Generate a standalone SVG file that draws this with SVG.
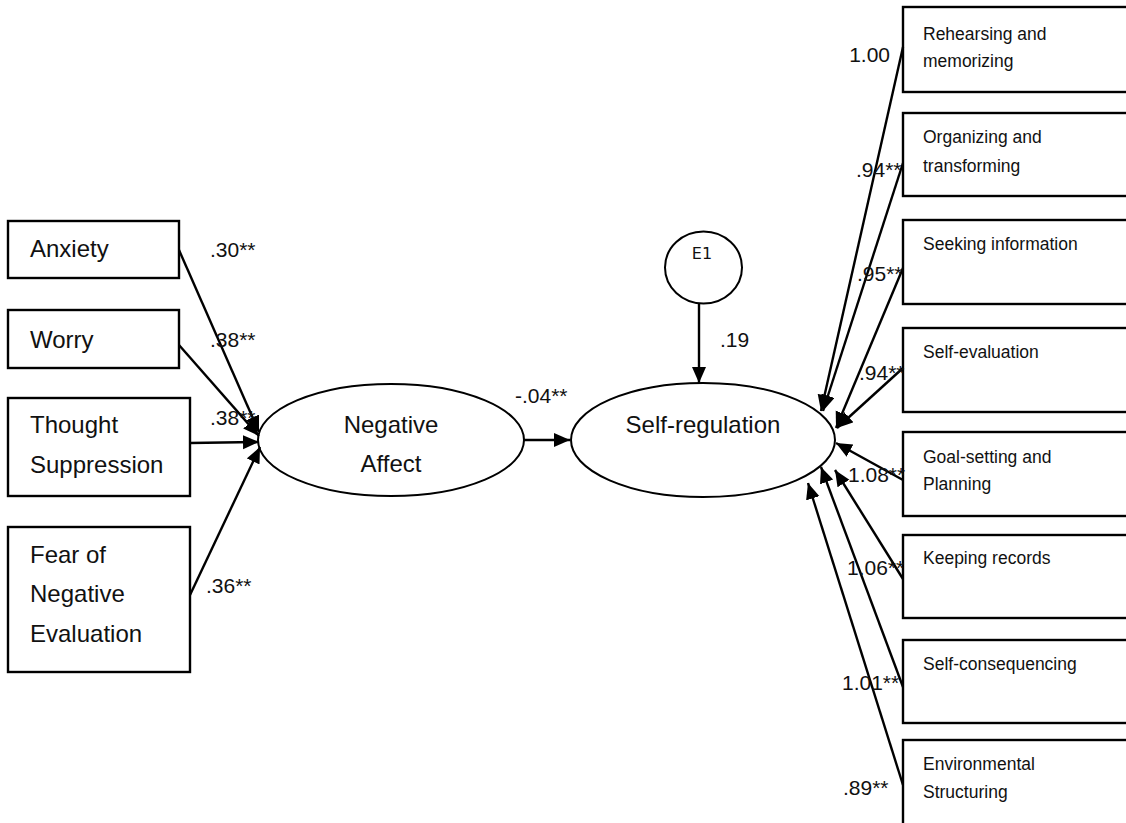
<svg xmlns="http://www.w3.org/2000/svg" width="1126" height="823" viewBox="0 0 1126 823">
<style>
.box{fill:#fff;stroke:#000;stroke-width:2.4}
.ell{fill:#fff;stroke:#000;stroke-width:2}
.lbl{font-family:"Liberation Sans",Arial,sans-serif;font-size:24px;fill:#111}
.sm{font-family:"Liberation Sans",Arial,sans-serif;font-size:17.5px;fill:#111}
.coef{font-family:"Liberation Sans",Arial,sans-serif;font-size:21px;fill:#111}
.conn line{stroke:#000;stroke-width:2.4;marker-end:url(#ah)}
</style>
<defs>
<marker id="ah" markerUnits="userSpaceOnUse" markerWidth="18" markerHeight="16" refX="16" refY="7" orient="auto">
<path d="M0,0 L16,7 L0,14 z" fill="#000"/>
</marker>
</defs>
<rect width="1126" height="823" fill="#fff"/>

<g id="anxiety"><rect class="box" x="8" y="221" width="171" height="57"/><text class="lbl" x="30" y="257">Anxiety</text></g>
<g id="worry"><rect class="box" x="8" y="310" width="171" height="58"/><text class="lbl" x="30" y="348">Worry</text></g>
<g id="thought"><rect class="box" x="8" y="398" width="182" height="98"/><text class="lbl" x="30" y="433">Thought</text><text class="lbl" x="30" y="473">Suppression</text></g>
<g id="fear"><rect class="box" x="8" y="527" width="182" height="145"/><text class="lbl" x="30" y="563">Fear of</text><text class="lbl" x="30" y="602">Negative</text><text class="lbl" x="30" y="642">Evaluation</text></g>

<g id="negaff"><ellipse class="ell" cx="391" cy="440" rx="133" ry="56"/><text class="lbl" x="391" y="433" text-anchor="middle">Negative</text><text class="lbl" x="391" y="472" text-anchor="middle">Affect</text></g>
<g id="selfreg"><ellipse class="ell" cx="703" cy="440" rx="132" ry="57"/><text class="lbl" x="703" y="433" text-anchor="middle">Self-regulation</text></g>
<g id="e1"><ellipse class="ell" cx="703.5" cy="267.5" rx="38.5" ry="36"/><text x="702" y="259" text-anchor="middle" font-family="DejaVu Sans,sans-serif" font-size="16" fill="#111">E1</text></g>

<g id="r1"><rect class="box" x="903" y="7" width="240" height="85"/><text class="sm" x="923" y="40">Rehearsing and</text><text class="sm" x="923" y="67">memorizing</text></g>
<g id="r2"><rect class="box" x="903" y="113" width="240" height="83"/><text class="sm" x="923" y="143">Organizing and</text><text class="sm" x="923" y="172">transforming</text></g>
<g id="r3"><rect class="box" x="903" y="220" width="240" height="84"/><text class="sm" x="923" y="250">Seeking information</text></g>
<g id="r4"><rect class="box" x="903" y="328" width="240" height="84"/><text class="sm" x="923" y="358">Self-evaluation</text></g>
<g id="r5"><rect class="box" x="903" y="432" width="240" height="84"/><text class="sm" x="923" y="463">Goal-setting and</text><text class="sm" x="923" y="490">Planning</text></g>
<g id="r6"><rect class="box" x="903" y="535" width="240" height="83"/><text class="sm" x="923" y="564">Keeping records</text></g>
<g id="r7"><rect class="box" x="903" y="640" width="240" height="83"/><text class="sm" x="923" y="670">Self-consequencing</text></g>
<g id="r8"><rect class="box" x="903" y="740" width="240" height="100"/><text class="sm" x="923" y="770">Environmental</text><text class="sm" x="923" y="798">Structuring</text></g>

<g id="connectors" class="conn">
<line x1="179" y1="250" x2="259" y2="432"/>
<line x1="179" y1="345" x2="259" y2="436"/>
<line x1="190" y1="443" x2="259" y2="442"/>
<line x1="190" y1="595" x2="260" y2="447"/>
<line x1="524" y1="440" x2="570" y2="440"/>
<line x1="699" y1="303" x2="699" y2="383"/>
<line x1="903" y1="47" x2="821" y2="411"/>
<line x1="903" y1="163" x2="823" y2="411"/>
<line x1="903" y1="268" x2="836" y2="428"/>
<line x1="903" y1="368" x2="837" y2="428"/>
<line x1="903" y1="480" x2="836" y2="443"/>
<line x1="903" y1="579" x2="835" y2="470"/>
<line x1="903" y1="687" x2="821" y2="467"/>
<line x1="903" y1="785" x2="808" y2="483"/>
</g>

<g id="labels">
<text class="coef" x="210" y="257">.30**</text>
<text class="coef" x="210" y="347">.38**</text>
<text class="coef" x="210" y="425">.38**</text>
<text class="coef" x="206" y="593">.36**</text>
<text class="coef" x="515" y="403">-.04**</text>
<text class="coef" x="720" y="347">.19</text>
<text class="coef" x="890" y="62" text-anchor="end">1.00</text>
<text class="coef" x="856" y="177">.94**</text>
<text class="coef" x="857" y="281">.95**</text>
<text class="coef" x="859" y="380">.94**</text>
<text class="coef" x="848" y="482">1.08**</text>
<text class="coef" x="847" y="575">1.06**</text>
<text class="coef" x="842" y="690">1.01**</text>
<text class="coef" x="843" y="795">.89**</text>
</g>
</svg>
